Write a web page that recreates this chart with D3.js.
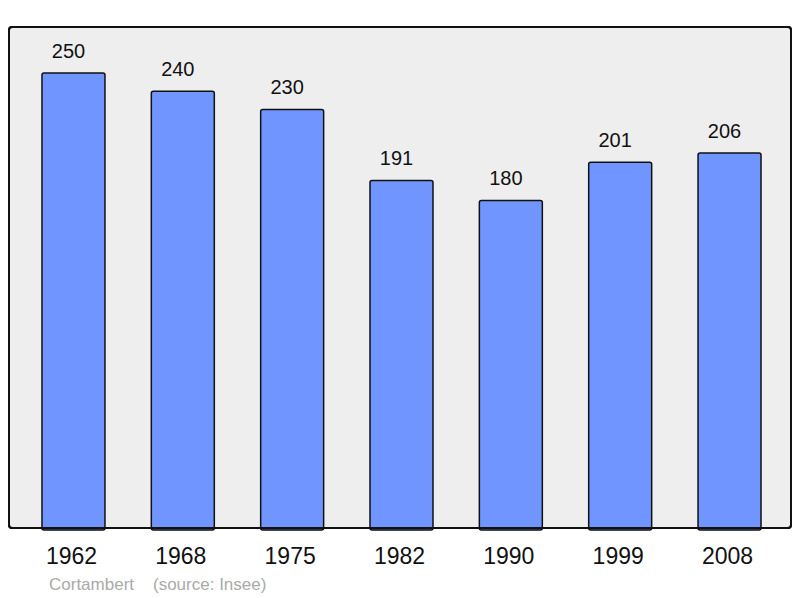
<!DOCTYPE html>
<html>
<head>
<meta charset="utf-8">
<script src="https://cdn.jsdelivr.net/npm/d3@7"></script>
<style>
  body { margin: 0; background: #fff; }
  text { font-family: "Liberation Sans", Arial, sans-serif; }
</style>
</head>
<body>
<svg id="chart" width="800" height="598"></svg>
<script>
// population by census year
var years = ["1962", "1968", "1975", "1982", "1990", "1999", "2008"];
var population = [250, 240, 230, 191, 180, 201, 206];

var svg = d3.select("#chart");

// panel
svg.append("rect")
    .attr("x", 9)
    .attr("y", 27)
    .attr("width", 782)
    .attr("height", 501)
    .attr("rx", 3)
    .attr("fill", "#eeeeee")
    .attr("stroke", "#111")
    .attr("stroke-width", 2);

var x = d3.scaleBand()
    .domain(years)
    .range([18.8, 784.2])
    .paddingInner(0.424)
    .paddingOuter(0.212);

var y = d3.scaleLinear()
    .domain([0, 250])
    .range([528, 73]);

var bars = svg.selectAll(".bar")
    .data(years)
    .enter();

bars.append("rect")
    .attr("class", "bar")
    .attr("x", function (d) { return x(d); })
    .attr("y", function (d, i) { return y(population[i]); })
    .attr("width", x.bandwidth())
    .attr("height", function (d, i) { return y(0) - y(population[i]) + 2; })
    .attr("rx", 2)
    .attr("fill", "#7095ff")
    .attr("stroke", "#111")
    .attr("stroke-width", 1.5);

// values above bars
bars.append("text")
    .attr("x", function (d) { return x(d) + x.bandwidth() / 2 - 5; })
    .attr("y", function (d, i) { return y(population[i]) - 15; })
    .attr("text-anchor", "middle")
    .attr("font-size", "20px")
    .attr("fill", "#111")
    .text(function (d, i) { return population[i]; });

// redraw panel border on top of bar bottoms
svg.append("rect")
    .attr("x", 9)
    .attr("y", 27)
    .attr("width", 782)
    .attr("height", 501)
    .attr("rx", 3)
    .attr("fill", "none")
    .attr("stroke", "#111")
    .attr("stroke-width", 2);

// year labels
svg.selectAll(".year")
    .data(years)
    .enter()
    .append("text")
    .attr("class", "year")
    .attr("x", function (d) { return x(d) + x.bandwidth() / 2 - 2; })
    .attr("y", 564)
    .attr("text-anchor", "middle")
    .attr("font-size", "23px")
    .attr("fill", "#111")
    .text(function (d) { return d; });

// footer
svg.append("text")
    .attr("x", 49)
    .attr("y", 590)
    .attr("font-size", "17px")
    .attr("fill", "#aaaaaa")
    .text("Cortambert");

svg.append("text")
    .attr("x", 153)
    .attr("y", 590)
    .attr("font-size", "17px")
    .attr("fill", "#aaaaaa")
    .text("(source: Insee)");
</script>
</body>
</html>
